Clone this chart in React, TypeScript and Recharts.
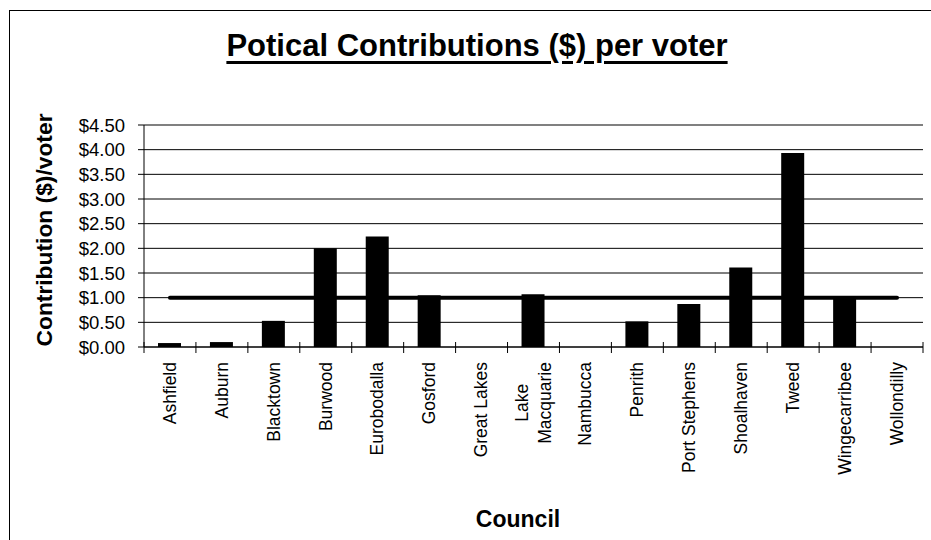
import React from 'react';
import { ComposedChart, Bar, Line, XAxis, YAxis, CartesianGrid, ReferenceLine } from 'recharts';

const councils = [
  'Ashfield', 'Auburn', 'Blacktown', 'Burwood', 'Eurobodalla', 'Gosford', 'Great Lakes',
  'Lake Macquarie', 'Nambucca', 'Penrith', 'Port Stephens', 'Shoalhaven', 'Tweed',
  'Wingecarribee', 'Wollondilly',
];
const tickLabels = [
  'Ashfield', 'Auburn', 'Blacktown', 'Burwood', 'Eurobodalla', 'Gosford', 'Great Lakes',
  'Lake\nMacquarie', 'Nambucca', 'Penrith', 'Port Stephens', 'Shoalhaven', 'Tweed',
  'Wingecarribee', 'Wollondilly',
];
const contributionPerVoter = [0.08, 0.1, 0.53, 2.0, 2.24, 1.05, 0, 1.07, 0, 0.52, 0.87, 1.61, 3.93, 0.98, 0];
const benchmark = [1, 1, 1, 1, 1, 1, 1, 1, 1, 1, 1, 1, 1, 1, 1];
const yTicks = [0, 0.5, 1, 1.5, 2, 2.5, 3, 3.5, 4, 4.5];

const data = councils.map((c, i) => ({
  council: c,
  value: contributionPerVoter[i],
  benchmark: benchmark[i],
}));

const FONT = "'Liberation Sans', Arial, Helvetica, sans-serif";
const W = 931;
const H = 540;
const PLOT_LEFT = 144;
const PLOT_RIGHT = 923;
const PLOT_TOP = 125;
const PLOT_BOTTOM = 347;
const BAND = (PLOT_RIGHT - PLOT_LEFT) / councils.length;
const X_FS = 17.5;

let ctx: any = null;
function measure(s: string, font: string): number {
  if (!ctx) ctx = document.createElement('canvas').getContext('2d');
  if (!ctx) return s.length * 9;
  ctx.font = font;
  return ctx.measureText(s).width;
}

function XTick(props: any) {
  const { x, y, index } = props;
  const label = tickLabels[index] ?? '';
  const lines = label.split('\n');
  const lh = 23;
  const start = y + 15;
  const n = lines.length;
  let anchorY = start;
  let anchor: 'end' | 'middle' = 'end';
  if (n > 1) {
    const maxW = Math.max(...lines.map((l) => measure(l, `${X_FS}px ${FONT}`)));
    anchorY = start + maxW / 2;
    anchor = 'middle';
  }
  return (
    <g>
      <line x1={x - BAND / 2} x2={x - BAND / 2} y1={y - 5} y2={y + 6} stroke="#000" strokeWidth={1} />
      {index === councils.length - 1 && (
        <line x1={x + BAND / 2} x2={x + BAND / 2} y1={y - 5} y2={y + 6} stroke="#000" strokeWidth={1} />
      )}
      <text
        x={x}
        y={anchorY}
        transform={`rotate(-90, ${x}, ${anchorY})`}
        textAnchor={anchor}
        fontSize={X_FS}
        fontFamily={FONT}
        fill="#000"
      >
        {lines.map((l, i) => (
          <tspan key={i} x={x} dy={i === 0 ? -((n - 1) / 2) * lh + 0.33 * X_FS : lh}>
            {l}
          </tspan>
        ))}
      </text>
    </g>
  );
}

export default function App() {
  return (
    <div style={{ position: 'fixed', left: 0, top: 0, width: W, height: H, overflow: 'hidden', background: '#fff' }}>
      <div
        style={{
          position: 'absolute',
          left: 9,
          top: 10,
          width: 960,
          height: 600,
          border: '1px solid #000',
          boxSizing: 'border-box',
        }}
      />
      <div style={{ position: 'absolute', left: 0, top: 0 }}>
        <ComposedChart
          width={W}
          height={H}
          data={data}
          margin={{ top: PLOT_TOP, right: W - PLOT_RIGHT, bottom: 0, left: 0 }}
        >
          <CartesianGrid vertical={false} stroke="#000" strokeWidth={1} />
          <XAxis
            dataKey="council"
            height={H - PLOT_BOTTOM}
            interval={0}
            tickSize={0}
            tickMargin={0}
            tickLine={false}
            axisLine={{ stroke: '#000', strokeWidth: 1 }}
            tick={<XTick />}
          />
          <YAxis
            width={PLOT_LEFT}
            domain={[0, 4.5]}
            ticks={yTicks}
            interval={0}
            tickFormatter={(v: number) => '$' + v.toFixed(2)}
            tickSize={6}
            tickMargin={13}
            axisLine={{ stroke: '#000', strokeWidth: 1 }}
            tickLine={{ stroke: '#000', strokeWidth: 1 }}
            tick={{ fill: '#000', fontSize: 18.5, fontFamily: FONT }}
          />
          <YAxis
            yAxisId="right"
            orientation="right"
            width={0}
            domain={[0, 4.5]}
            tick={false}
            tickLine={false}
            axisLine={{ stroke: '#808080', strokeWidth: 2 }}
          />
          <ReferenceLine y={4.5} stroke="#808080" strokeWidth={2} />
          <Bar dataKey="value" fill="#000" barSize={23} isAnimationActive={false} />
          <Line
            dataKey="benchmark"
            type="linear"
            stroke="#000"
            strokeWidth={4}
            strokeLinecap="round"
            dot={false}
            activeDot={false}
            isAnimationActive={false}
          />
        </ComposedChart>
      </div>
      <div
        style={{
          position: 'absolute',
          left: 477,
          top: 30,
          transform: 'translateX(-50%)',
          whiteSpace: 'nowrap',
          fontFamily: FONT,
          fontWeight: 'bold',
          fontSize: 31,
          lineHeight: 1,
          textDecoration: 'underline',
          textDecorationThickness: '3px',
          textUnderlineOffset: '5px',
          color: '#000',
        }}
      >
        Potical Contributions ($) per voter
      </div>
      <div
        style={{
          position: 'absolute',
          left: 44,
          top: 230,
          transform: 'translate(-50%, -50%) rotate(-90deg)',
          whiteSpace: 'nowrap',
          fontFamily: FONT,
          fontWeight: 'bold',
          fontSize: 22.8,
          lineHeight: 1,
          color: '#000',
        }}
      >
        Contribution ($)/voter
      </div>
      <div
        style={{
          position: 'absolute',
          left: 518,
          top: 508,
          transform: 'translateX(-50%)',
          whiteSpace: 'nowrap',
          fontFamily: FONT,
          fontWeight: 'bold',
          fontSize: 23,
          lineHeight: 1,
          color: '#000',
        }}
      >
        Council
      </div>
    </div>
  );
}
